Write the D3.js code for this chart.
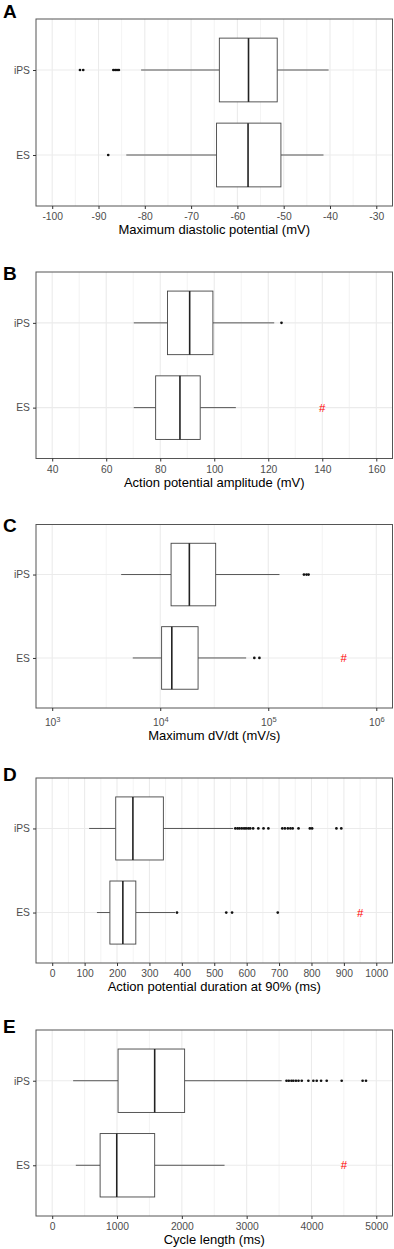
<!DOCTYPE html>
<html>
<head>
<meta charset="utf-8">
<script src="https://cdn.jsdelivr.net/npm/d3@7"></script>
<style>
  html, body { margin: 0; padding: 0; background: #fff; }
  svg { display: block; font-family: "Liberation Sans", Arial, sans-serif; }
</style>
</head>
<body>
<svg id="chart" width="394" height="1249"></svg>
<script>
// Groups, top row first
const groups = ["iPS", "ES"];

// Boxes are [lower whisker, Q1, median, Q3, upper whisker], iPS then ES

// A: maximum diastolic potential (mV)
const mdpBoxes = [[-80.8, -63.9, -57.6, -51.4, -40.3], [-84.0, -64.5, -57.7, -50.6, -41.4]];
const mdpOutliers = [[-94.0, -93.3, -86.8, -86.4, -86.0, -85.6], [-87.9]];
const mdpTicks = [-100, -90, -80, -70, -60, -50, -40, -30];

// B: action potential amplitude (mV)
const apaBoxes = [[70.2, 82.7, 90.9, 99.5, 122.2], [70.2, 78.3, 87.3, 94.8, 108.0]];
const apaOutliers = [[124.9], []];
const apaTicks = [40, 60, 80, 100, 120, 140, 160];

// C: maximum dV/dt (mV/s), log axis
const dvdtBoxes = [[4350, 12600, 18600, 32600, 127000], [5570, 10300, 12800, 22400, 62400]];
const dvdtOutliers = [[214000, 226000, 236000], [74300, 82800]];
const dvdtTicks = [1e3, 1e4, 1e5, 1e6];

// D: action potential duration at 90% (ms)
const apdBoxes = [[114, 196, 249, 343, 558], [138, 178, 218, 258, 379]];
const apdOutliers = [
    [565, 572, 578, 585, 592, 598, 605, 611, 620, 636, 652, 667, 710, 718, 727, 735, 742, 760, 795, 802, 877, 892],
    [385, 537, 555, 696]
];
const apdTicks = [0, 100, 200, 300, 400, 500, 600, 700, 800, 900, 1000];

// E: cycle length (ms)
const clBoxes = [[323, 1016, 1581, 2043, 3540], [364, 739, 996, 1581, 2659]];
const clOutliers = [
    [3615, 3650, 3690, 3720, 3760, 3800, 3850, 3952, 4029, 4081, 4148, 4235, 4466, 4789, 4841],
    []
];
const clTicks = [0, 1000, 2000, 3000, 4000, 5000];

// red "#" marks on the ES row
const hashMarks = [null, 140, 5e5, 950, 4500];

const letters = ["A", "B", "C", "D", "E"];
const xTitles = [
    "Maximum diastolic potential (mV)",
    "Action potential amplitude (mV)",
    "Maximum dV/dt (mV/s)",
    "Action potential duration at 90% (ms)",
    "Cycle length (ms)"
];

// layout
const left = 36, right = 392.5;
const panelTops = [19, 272, 524.5, 778, 1030];
const panelHeights = [187, 186.5, 183.5, 185, 186];
const letterBase = [18.3, 280, 531.7, 780.7, 1033.3];

const panels = [
    { boxes: mdpBoxes, outliers: mdpOutliers, ticks: mdpTicks, log: false },
    { boxes: apaBoxes, outliers: apaOutliers, ticks: apaTicks, log: false },
    { boxes: dvdtBoxes, outliers: dvdtOutliers, ticks: dvdtTicks, log: true },
    { boxes: apdBoxes, outliers: apdOutliers, ticks: apdTicks, log: false },
    { boxes: clBoxes, outliers: clOutliers, ticks: clTicks, log: false }
];

const svg = d3.select("#chart");

panels.forEach((p, i) => {
    const top = panelTops[i], h = panelHeights[i], bottom = top + h;
    const lo = p.ticks[0], hi = p.ticks[p.ticks.length - 1];

    // ggplot style 5% expansion
    let x, minor;
    if (p.log) {
        const f = Math.pow(hi / lo, 0.05);
        x = d3.scaleLog().domain([lo / f, hi * f]).range([left, right]);
        minor = d3.pairs(p.ticks).map(([a, b]) => Math.sqrt(a * b));
    } else {
        const e = (hi - lo) * 0.05;
        x = d3.scaleLinear().domain([lo - e, hi + e]).range([left, right]);
        minor = d3.pairs(p.ticks).map(([a, b]) => (a + b) / 2);
    }
    const y = d3.scalePoint().domain(groups).range([top, bottom]).padding(0.6);
    const bh = y.step() * 0.75;

    const g = svg.append("g");

    // grid
    g.selectAll(".minor").data(minor).enter().append("line")
        .attr("x1", d => x(d)).attr("x2", d => x(d))
        .attr("y1", top).attr("y2", bottom)
        .attr("stroke", "#ebebeb").attr("stroke-width", 0.6);
    g.selectAll(".major").data(p.ticks).enter().append("line")
        .attr("x1", d => x(d)).attr("x2", d => x(d))
        .attr("y1", top).attr("y2", bottom)
        .attr("stroke", "#ebebeb").attr("stroke-width", 1.1);
    g.selectAll(".hgrid").data(groups).enter().append("line")
        .attr("x1", left).attr("x2", right)
        .attr("y1", d => y(d)).attr("y2", d => y(d))
        .attr("stroke", "#ebebeb").attr("stroke-width", 1.1);

    // boxes
    const box = g.selectAll(".box").data(p.boxes).enter().append("g");
    box.append("line")
        .attr("x1", d => x(d[0])).attr("x2", d => x(d[1]))
        .attr("y1", (d, j) => y(groups[j])).attr("y2", (d, j) => y(groups[j]))
        .attr("stroke", "#444").attr("stroke-width", 0.9);
    box.append("line")
        .attr("x1", d => x(d[3])).attr("x2", d => x(d[4]))
        .attr("y1", (d, j) => y(groups[j])).attr("y2", (d, j) => y(groups[j]))
        .attr("stroke", "#444").attr("stroke-width", 0.9);
    box.append("rect")
        .attr("x", d => x(d[1])).attr("width", d => x(d[3]) - x(d[1]))
        .attr("y", (d, j) => y(groups[j]) - bh / 2).attr("height", bh)
        .attr("fill", "#fff").attr("stroke", "#444").attr("stroke-width", 0.9);
    box.append("line")
        .attr("x1", d => x(d[2])).attr("x2", d => x(d[2]))
        .attr("y1", (d, j) => y(groups[j]) - bh / 2).attr("y2", (d, j) => y(groups[j]) + bh / 2)
        .attr("stroke", "#222").attr("stroke-width", 1.6);

    // outliers
    p.outliers.forEach((pts, j) => {
        g.selectAll(null).data(pts).enter().append("circle")
            .attr("cx", d => x(d)).attr("cy", y(groups[j])).attr("r", 1.35)
            .attr("fill", "#111");
    });

    if (hashMarks[i] !== null) {
        g.append("text")
            .attr("x", x(hashMarks[i])).attr("y", y("ES") + 4)
            .attr("text-anchor", "middle").attr("fill", "#ff0000")
            .attr("font-size", 11.5).text("#");
    }

    // border
    g.append("rect")
        .attr("x", left).attr("y", top).attr("width", right - left).attr("height", h)
        .attr("fill", "none").attr("stroke", "#555").attr("stroke-width", 1);

    // axes
    const xa = g.append("g").attr("transform", `translate(0,${bottom})`)
        .call(d3.axisBottom(x).tickValues(p.ticks).tickSize(3).tickSizeOuter(0)
            .tickPadding(p.log ? 8 : 4).tickFormat(d => p.log ? "" : d3.format("d")(d).replace("−", "-")));
    const ya = g.append("g").attr("transform", `translate(${left},0)`)
        .call(d3.axisLeft(y).tickSize(3).tickPadding(3));
    [xa, ya].forEach(a => {
        a.attr("font-family", null).attr("font-size", null);
        a.select(".domain").remove();
        a.selectAll(".tick line").attr("stroke", "#333");
        a.selectAll(".tick text").attr("fill", "#4d4d4d").attr("font-size", 10.3);
    });
    if (p.log) {
        xa.selectAll(".tick text").each(function(d) {
            const t = d3.select(this);
            t.append("tspan").text("10");
            t.append("tspan").attr("dy", "-4").attr("font-size", 7.5)
                .text(Math.round(Math.log10(d)));
        });
    }

    // axis title
    g.append("text")
        .attr("x", (left + right) / 2).attr("y", bottom + (p.log ? 31.6 : 28))
        .attr("text-anchor", "middle").attr("fill", "#000")
        .attr("font-size", 13).text(xTitles[i]);

    // panel letter
    g.append("text")
        .attr("x", 3).attr("y", letterBase[i])
        .attr("font-size", 19).attr("font-weight", "bold").attr("fill", "#000")
        .text(letters[i]);
});
</script>
</body>
</html>
